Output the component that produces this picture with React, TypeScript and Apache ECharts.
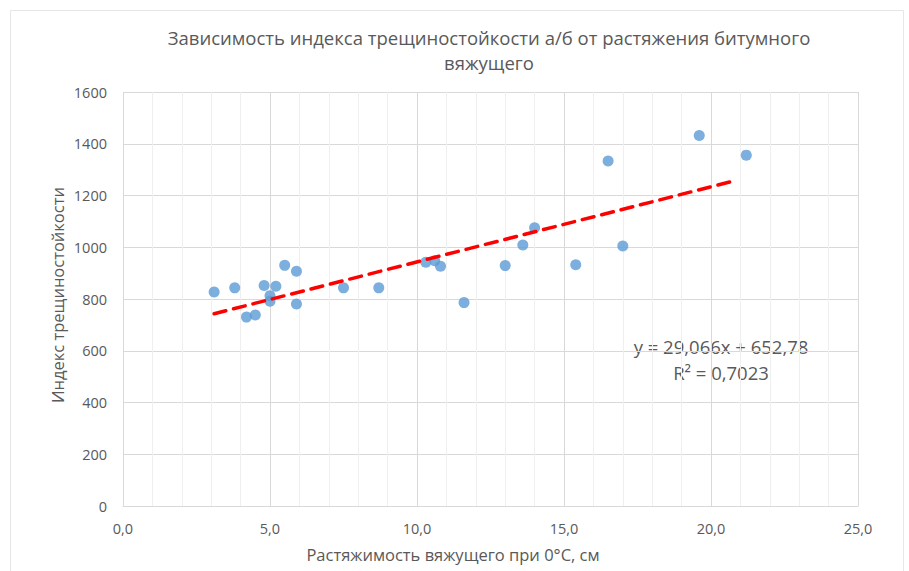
import React, { useEffect, useRef } from "react";
import * as echarts from "echarts";

const titleLines = ["Зависимость индекса трещиностойкости а/б от растяжения битумного", "вяжущего"];
const xAxisTitle = "Растяжимость вяжущего при 0°С, см";
const yAxisTitle = "Индекс трещиностойкости";

// scatter points: [stretch (cm), crack-resistance index]
const xValues = [3.1, 3.8, 4.2, 4.5, 4.8, 5.2, 5.0, 5.0, 5.5, 5.9, 5.9, 7.5, 8.7, 10.3, 10.6, 10.8, 11.6, 13.0, 13.6, 14.0, 15.4, 16.5, 17.0, 19.6, 21.2];
const yValues = [827, 843, 730, 738, 852, 849, 813, 791, 930, 907, 781, 843, 843, 942, 948, 927, 786, 929, 1009, 1075, 932, 1333, 1005, 1432, 1356];

// linear trend endpoints
const trendX = [3.1, 20.8];
const trendY = [743, 1257];

const equationLines = ["y = 29,066x + 652,78", "R² = 0,7023"];

const FONT = "'Open Sans', sans-serif";
const GRAY = "#595959";

export default function App() {
  const ref = useRef<HTMLDivElement>(null);
  useEffect(() => {
    document.body.style.margin = "0";
    const chart = echarts.init(ref.current!, undefined, { renderer: "svg" });
    const scatterData = xValues.map((x, i) => [x, yValues[i]]);
    const trendData = trendX.map((x, i) => [x, trendY[i]]);
    chart.setOption({
      animation: false,
      backgroundColor: "#fff",
      grid: { left: 123, right: 51, top: 92, bottom: 65, containLabel: false },
      xAxis: {
        type: "value",
        min: 0,
        max: 25,
        interval: 5,
        axisLine: { show: true, lineStyle: { color: "#D9D9D9" } },
        axisTick: { show: false },
        axisLabel: {
          fontFamily: FONT,
          fontSize: 14.5,
          color: GRAY,
          margin: 15,
          formatter: (v: number) => v.toFixed(1).replace(".", ","),
        },
        splitLine: { show: true, lineStyle: { color: "#D9D9D9" } },
        minorTick: { show: false, splitNumber: 5 },
        minorSplitLine: { show: true, lineStyle: { color: "#EFEFEF" } },
      },
      yAxis: {
        type: "value",
        min: 0,
        max: 1600,
        interval: 200,
        axisLine: { show: false },
        axisTick: { show: false },
        axisLabel: {
          fontFamily: FONT,
          fontSize: 14.5,
          color: GRAY,
          margin: 16,
          formatter: (v: number) => String(v),
        },
        splitLine: { show: true, lineStyle: { color: "#D9D9D9" } },
      },
      graphic: [
        {
          type: "rect",
          shape: { x: 10.5, y: 10.5, width: 893, height: 570 },
          style: { fill: "none", stroke: "#E6E6E6", lineWidth: 1 },
          silent: true,
        },
        {
          type: "text",
          x: 489,
          y: 37,
          style: {
            text: titleLines[0],
            font: `18.5px ${FONT}`,
            fill: GRAY,
            textAlign: "center",
            textVerticalAlign: "middle",
          },
        },
        {
          type: "text",
          x: 489,
          y: 62,
          style: {
            text: titleLines[1],
            font: `18.5px ${FONT}`,
            fill: GRAY,
            textAlign: "center",
            textVerticalAlign: "middle",
          },
        },
        {
          type: "text",
          x: 453,
          y: 554,
          style: {
            text: xAxisTitle,
            font: `16.5px ${FONT}`,
            fill: GRAY,
            textAlign: "center",
            textVerticalAlign: "middle",
          },
        },
        {
          type: "text",
          x: 57,
          y: 295,
          rotation: Math.PI / 2,
          style: {
            text: yAxisTitle,
            font: `16.5px ${FONT}`,
            fill: GRAY,
            textAlign: "center",
            textVerticalAlign: "middle",
          },
        },
        {
          type: "text",
          x: 721,
          y: 359,
          style: {
            text: equationLines.join("\n"),
            font: `18.5px ${FONT}`,
            fill: GRAY,
            textAlign: "center",
            textVerticalAlign: "middle",
            lineHeight: 26,
          },
        },
      ],
      series: [
        {
          type: "line",
          data: trendData,
          symbol: "none",
          z: 3,
          lineStyle: { color: "#FF0000", width: 3.5, type: [12, 8], cap: "round" },
        },
        {
          type: "scatter",
          data: scatterData,
          symbolSize: 11,
          z: 2,
          itemStyle: { color: "#5B9BD5" },
        },
      ],
    });
    return () => chart.dispose();
  }, []);
  return <div ref={ref} style={{ width: 909, height: 571 }} />;
}
